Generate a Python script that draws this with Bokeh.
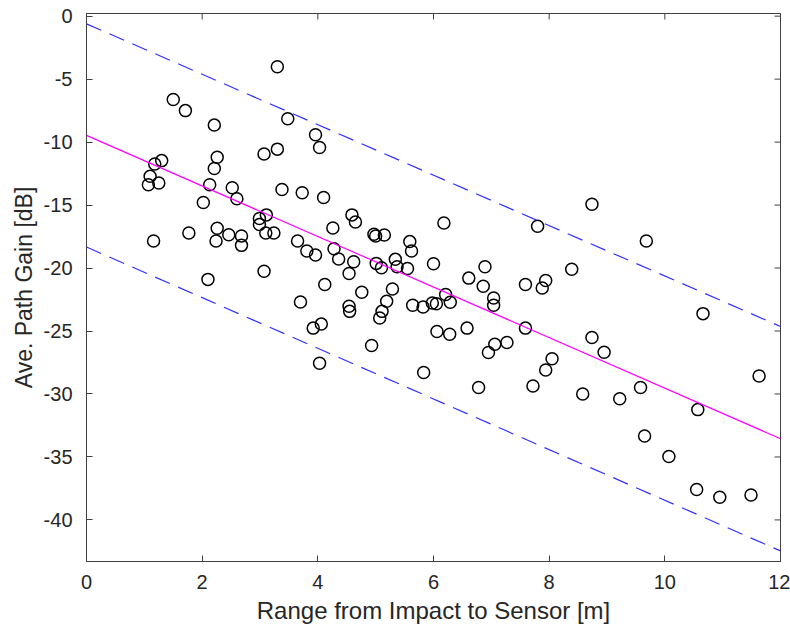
import math
from bokeh.plotting import figure
from bokeh.models import Range1d, FixedTicker
from bokeh.embed import file_html
from bokeh.resources import INLINE

# Measured points: range from impact to sensor [m] and average path gain [dB]
range_m = [3.30, 1.50, 1.71, 2.21, 3.48, 3.96, 4.03, 3.07, 3.30, 1.30,
           1.18, 2.26, 2.21, 1.10, 1.07, 1.25, 2.13, 2.52, 2.60, 2.02,
           3.38, 3.73, 4.10, 2.99, 3.11, 2.99, 3.10, 3.24, 4.26, 1.77,
           1.16, 2.26, 2.24, 2.46, 2.68, 2.68, 3.65, 3.81, 3.96, 4.28,
           4.36, 3.07, 2.10, 4.12, 3.70, 4.59, 4.65, 4.97, 5.00, 5.15,
           6.18, 7.80, 5.59, 5.62, 4.62, 4.54, 5.01, 5.10, 5.34, 5.37,
           5.55, 6.00, 6.89, 6.61, 6.86, 7.59, 7.88, 7.94, 4.76, 5.29,
           5.19, 5.11, 5.07, 4.54, 4.55, 4.06, 3.92, 5.64, 5.82, 5.98,
           6.05, 6.21, 6.29, 7.04, 7.04, 6.06, 6.28, 6.58, 7.06, 6.95,
           7.27, 7.59, 4.93, 4.03, 5.83, 6.78, 7.72, 7.94, 8.05, 8.74,
           9.68, 8.39, 10.66, 8.74, 8.95, 8.58, 9.22, 9.58, 11.63, 10.57,
           9.65, 10.07, 10.55, 10.95, 11.49]
gain_db = [-4.02, -6.62, -7.50, -8.65, -8.14, -9.42, -10.43, -10.94, -10.56, -11.47,
           -11.74, -11.20, -12.10, -12.72, -13.38, -13.25, -13.38, -13.62, -14.50, -14.80,
           -13.76, -14.02, -14.40, -16.07, -15.78, -16.55, -17.22, -17.22, -16.82, -17.22,
           -17.85, -16.84, -17.85, -17.35, -17.45, -18.20, -17.85, -18.65, -18.97, -18.47,
           -19.28, -20.25, -20.90, -21.30, -22.70, -15.78, -16.34, -17.32, -17.45, -17.37,
           -16.42, -16.68, -17.90, -18.65, -19.50, -20.43, -19.63, -19.98, -19.31, -19.90,
           -20.03, -19.66, -19.90, -20.80, -21.44, -21.30, -21.58, -20.99, -21.92, -21.66,
           -22.64, -23.44, -23.97, -23.04, -23.44, -24.45, -24.77, -22.96, -23.10, -22.78,
           -22.83, -22.10, -22.72, -22.38, -22.96, -25.04, -25.25, -24.77, -26.05, -26.71,
           -25.91, -24.77, -26.15, -27.56, -28.30, -29.48, -29.37, -28.10, -27.20, -14.93,
           -17.85, -20.10, -23.62, -25.51, -26.69, -30.00, -30.38, -29.48, -28.57, -31.24,
           -33.33, -34.96, -37.59, -38.20, -38.02]

# Regression line and bounds (end points at x = 0 and x = 12)
fit_x = [0, 12]
fit_y = [-9.47, -33.55]
upper_y = [-0.61, -24.64]
lower_y = [-18.33, -42.46]

x_ticks = [0, 2, 4, 6, 8, 10, 12]
y_ticks = [-40, -35, -30, -25, -20, -15, -10, -5, 0]
x_min, x_max = 0, 12
y_min, y_max = -43.3, 0.21

FONT = "Liberation Sans"
AXC = "#404040"
TXT = "#262626"

p = figure(width=790, height=628, x_range=Range1d(x_min, x_max), y_range=Range1d(y_min, y_max),
           output_backend="svg", toolbar_location=None,
           min_border_left=86, min_border_right=10, min_border_top=13, min_border_bottom=67,
           background_fill_color="white", border_fill_color="white")
p.grid.visible = False
p.outline_line_color = AXC
p.outline_line_width = 1

p.scatter(range_m, gain_db, marker="circle", size=12, fill_color=None,
          line_color="black", line_width=1.5)
p.line(fit_x, fit_y, line_color="#ff00ff", line_width=1.2)
p.line(fit_x, upper_y, line_color="#3030ff", line_width=1.2, line_dash="16 9")
p.line(fit_x, lower_y, line_color="#3030ff", line_width=1.2, line_dash="16 9")

# inward ticks on the top and right edges of the box
p.ray(x=x_ticks, y=[y_max] * len(x_ticks), length=6, length_units="screen",
      angle=-math.pi / 2, line_color=AXC, line_width=1)
p.ray(x=[x_max] * len(y_ticks), y=y_ticks, length=6, length_units="screen",
      angle=math.pi, line_color=AXC, line_width=1)

xa = p.xaxis[0]
ya = p.yaxis[0]
xa.ticker = FixedTicker(ticks=x_ticks)
ya.ticker = FixedTicker(ticks=y_ticks)
xa.major_label_overrides = {t: str(t) for t in x_ticks}
ya.major_label_overrides = {t: str(t) for t in y_ticks}
for ax in (xa, ya):
    ax.major_tick_in = 6
    ax.major_tick_out = 0
    ax.minor_tick_line_color = None
    ax.axis_line_color = AXC
    ax.major_tick_line_color = AXC
    ax.major_label_text_font = FONT
    ax.major_label_text_font_size = "20px"
    ax.major_label_text_color = TXT
    ax.axis_label_text_font = FONT
    ax.axis_label_text_font_style = "normal"
    ax.axis_label_text_color = TXT

xa.axis_label = "Range from Impact to Sensor [m]"
xa.axis_label_text_font_size = "24px"
xa.major_label_standoff = 13
xa.axis_label_standoff = 5

ya.axis_label = "Ave. Path Gain [dB]"
ya.axis_label_text_font_size = "23px"
ya.major_label_standoff = 14
ya.axis_label_standoff = 4

open("out.html", "w").write(file_html(p, INLINE))
